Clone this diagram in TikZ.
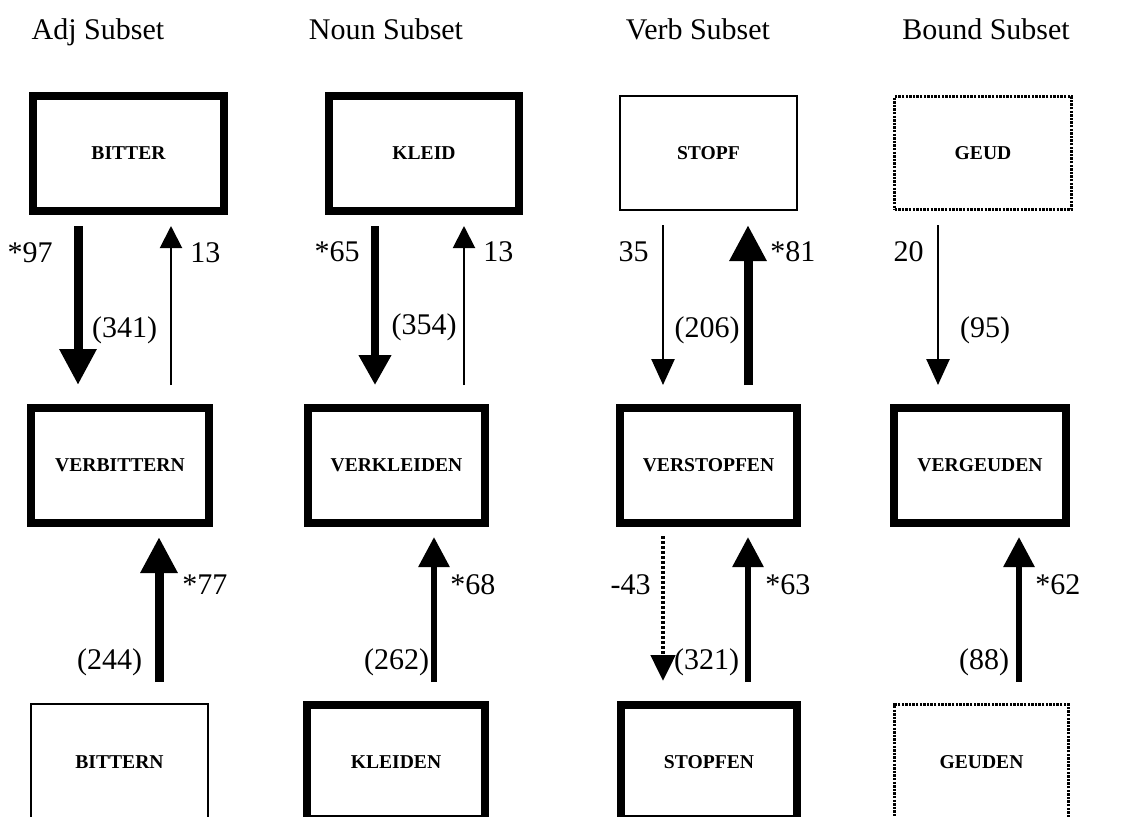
\documentclass[tikz,border=0pt]{standalone}
\usepackage{fontspec}
\setmainfont{Liberation Serif}
\usetikzlibrary{arrows.meta}
\begin{document}
\begin{tikzpicture}[x=0.5pt,y=-0.5pt,
  box/.style={draw, rectangle, inner sep=0pt, fill=white,
    font=\fontsize{9.8pt}{12pt}\selectfont\bfseries},
  heavy/.style={box, line width=4pt},
  light/.style={box, line width=1pt},
  dots/.style={box, line width=1.7pt, dash pattern=on 1.2pt off 0.6pt},
  hdr/.style={font=\fontsize{15pt}{18pt}\selectfont, anchor=base, inner sep=0pt},
  lbl/.style={font=\fontsize{15pt}{18pt}\selectfont, inner sep=0pt},
  thickA/.style={line width=4.5pt, -{Triangle[width=17.5pt,length=18pt]}},
  nounA/.style={line width=3.6pt, -{Triangle[width=15.5pt,length=15pt]}},
  medA/.style={line width=3pt, -{Triangle[width=15pt,length=15pt]}},
  lightA/.style={line width=1.3pt, -{Triangle[width=11.5pt,length=13pt]}},
  thinA/.style={line width=1pt, -{Triangle[width=11pt,length=11pt]}},
  dotA/.style={line width=2.4pt, dash pattern=on 1.6pt off 0.9pt,
    -{Triangle[width=12pt,length=13pt]}},
  dnarr/.style={shorten <=5.5pt, shorten >=9.5pt},
  uparr/.style={shorten <=9.5pt, shorten >=5.5pt}
]
\useasboundingbox (0,0) rectangle (1125,816);
\clip (0,0) rectangle (1125,816);
\fill[white] (0,0) rectangle (1125,816);

% column coordinates for connectors
\coordinate (cA1) at (78,0);
\coordinate (cA2) at (171,0);
\coordinate (cA3) at (159,0);
\coordinate (cN1) at (375,0);
\coordinate (cN2) at (464,0);
\coordinate (cN3) at (434,0);
\coordinate (cV1) at (663,0);
\coordinate (cV2) at (748,0);
\coordinate (cB1) at (938,0);
\coordinate (cB3) at (1019,0);

% headers
\node[hdr] (h1) at (98,39) {Adj Subset};
\node[hdr] (h2) at (386,39) {Noun Subset};
\node[hdr] (h3) at (698,39) {Verb Subset};
\node[hdr] (h4) at (986,39) {Bound Subset};

% top row
\node[heavy, minimum width=95.5pt, minimum height=57.5pt] (t1) at (128.5,153.5) {BITTER};
\node[heavy, minimum width=95pt, minimum height=57.5pt] (t2) at (424,153.5) {KLEID};
\node[light, minimum width=88.5pt, minimum height=57pt] (t3) at (708.5,153) {STOPF};
\node[dots, minimum width=88.5pt, minimum height=56.5pt] (t4) at (983,153) {GEUD};

% middle row
\node[heavy, minimum width=89pt, minimum height=57.5pt] (m1) at (120,465.5) {VERBITTERN};
\node[heavy, minimum width=88.5pt, minimum height=57.5pt] (m2) at (396.5,465.5) {VERKLEIDEN};
\node[heavy, minimum width=88.5pt, minimum height=57.5pt] (m3) at (708.5,465.5) {VERSTOPFEN};
\node[heavy, minimum width=86pt, minimum height=57.5pt] (m4) at (980,465.5) {VERGEUDEN};

% bottom row
\node[light, minimum width=88.5pt, minimum height=58pt] (b1) at (119.5,762) {BITTERN};
\node[heavy, minimum width=89pt, minimum height=57pt] (b2) at (396,762) {KLEIDEN};
\node[heavy, minimum width=88pt, minimum height=57pt] (b3) at (709,762) {STOPFEN};
\node[dots, minimum width=87pt, minimum height=57.5pt] (b4) at (981.5,762) {GEUDEN};

% top-row connectors
\draw[thickA, dnarr] (t1.south -| cA1) -- (m1.north -| cA1);
\draw[thinA, uparr] (m1.north -| cA2) -- (t1.south -| cA2);
\draw[nounA, dnarr] (t2.south -| cN1) -- (m2.north -| cN1);
\draw[thinA, uparr] (m2.north -| cN2) -- (t2.south -| cN2);
\draw[lightA, dnarr, shorten <=7pt] (t3.south -| cV1) -- (m3.north -| cV1);
\draw[thickA, uparr, shorten >=7pt] (m3.north -| cV2) -- (t3.south -| cV2);
\draw[lightA, dnarr, shorten <=7pt] (t4.south -| cB1) -- (m4.north -| cB1);

% bottom-row connectors
\draw[thickA, shorten <=10.5pt, shorten >=5pt] (b1.north -| cA3) -- (m1.south -| cA3);
\draw[medA, shorten <=9.5pt, shorten >=5pt] (b2.north -| cN3) -- (m2.south -| cN3);
\draw[dotA, shorten <=4.5pt, shorten >=10pt] (m3.south -| cV1) -- (b3.north -| cV1);
\draw[medA, shorten <=9.5pt, shorten >=5pt] (b3.north -| cV2) -- (m3.south -| cV2);
\draw[medA, shorten <=10.5pt, shorten >=5pt] (b4.north -| cB3) -- (m4.south -| cB3);

% labels, top row
\node[lbl, anchor=east] (l1) at (53,253) {*97};
\node[lbl, anchor=west] (l2) at (190,253) {13};
\node[lbl] (l3) at (124.5,330) {(341)};
\node[lbl, anchor=east] (l4) at (360,252) {*65};
\node[lbl, anchor=west] (l5) at (483,252) {13};
\node[lbl] (l6) at (424,327) {(354)};
\node[lbl, anchor=east] (l7) at (649,252) {35};
\node[lbl, anchor=west] (l8) at (770,252) {*81};
\node[lbl] (l9) at (707,330) {(206)};
\node[lbl, anchor=east] (l10) at (924,252) {20};
\node[lbl] (l11) at (985,330) {(95)};

% labels, bottom row
\node[lbl, anchor=west] (l12) at (182,585) {*77};
\node[lbl] (l13) at (109.5,662) {(244)};
\node[lbl, anchor=west] (l14) at (450,585) {*68};
\node[lbl] (l15) at (396.5,662) {(262)};
\node[lbl, anchor=east] (l16) at (651,585) {-43};
\node[lbl, anchor=west] (l17) at (765,585) {*63};
\node[lbl] (l18) at (706.5,662) {(321)};
\node[lbl, anchor=west] (l19) at (1035,585) {*62};
\node[lbl] (l20) at (984,662) {(88)};
\end{tikzpicture}
\end{document}
